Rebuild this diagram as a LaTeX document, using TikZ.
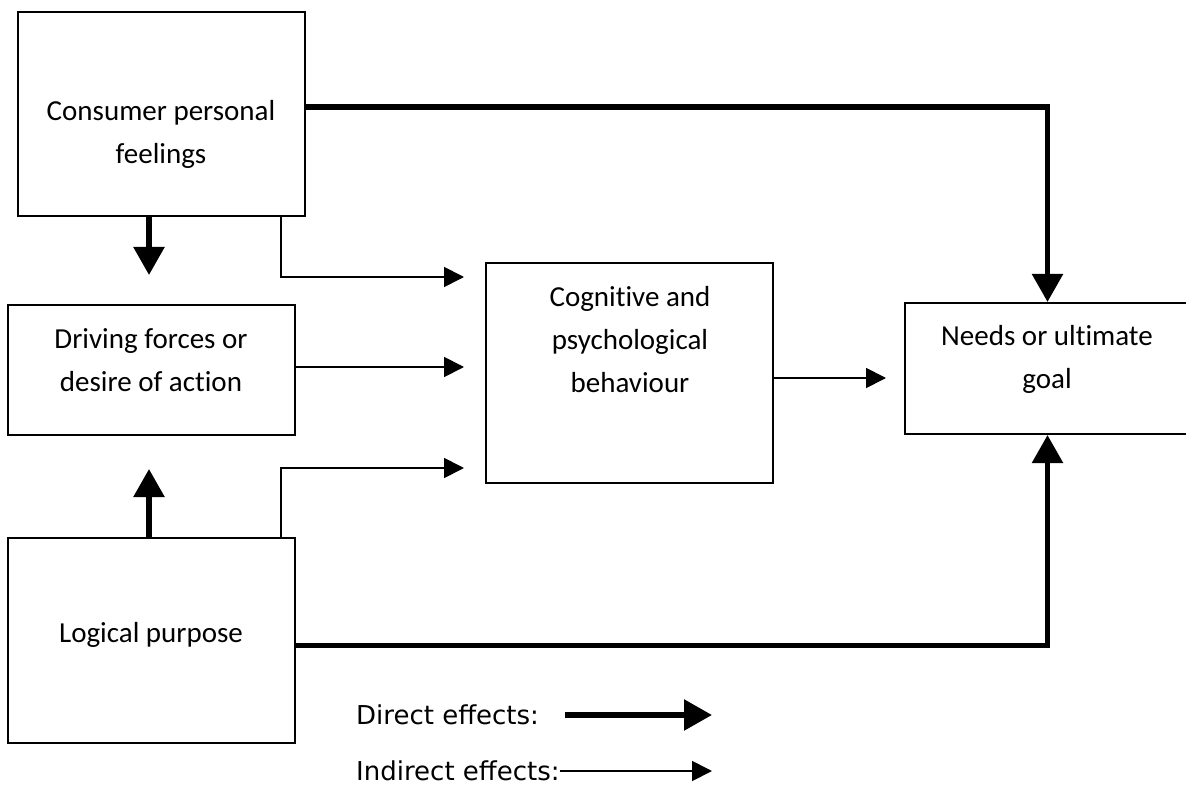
\documentclass[tikz,border=0pt]{standalone}
\usepackage{fontspec}
\setmainfont{Carlito}[Ligatures={NoCommon}]
\newfontfamily\legendfont{DejaVu Sans}
\usetikzlibrary{arrows.meta,calc}
\begin{document}
\begin{tikzpicture}[x=1pt,y=-1pt,
  box/.style={draw,line width=2pt,minimum width=#1,inner sep=0pt},
  txt/.style={align=center,font=\fontsize{29}{43}\selectfont,inner sep=0pt},
  lgd/.style={anchor=west,inner sep=0pt,font=\legendfont\fontsize{26}{30}\selectfont},
  direct/.style={line width=5.5pt,-{Triangle[length=28pt,width=30pt]}},
  indirect/.style={line width=1.8pt,-{Triangle[length=20pt,width=20pt]}},
]
\useasboundingbox (0,0) rectangle (1186,794);
\begin{scope}
\clip (0,0) rectangle (1186,794);
% boxes
\node[box=287pt,minimum height=204pt] (cpf) at (161.5,114) {};
\node[box=287pt,minimum height=130pt] (dfa) at (151.5,370) {};
\node[box=287pt,minimum height=205pt] (lp) at (151.5,640.5) {};
\node[box=287pt,minimum height=220pt] (cpb) at (629.5,373) {};
\node[box=285pt,minimum height=131pt] (nug) at (1047.5,368.5) {};
\end{scope}
% texts
\node[txt] (t1) at (161,134) {Consumer personal\\feelings};
\node[txt] (t2) at (151,360) {Driving forces or\\desire of action};
\node[txt] (t3) at (630,340) {Cognitive and\\psychological\\behaviour};
\node[txt] (t4) at (1047,359) {Needs or ultimate\\goal};
\node[txt] (t5) at (151,635) {Logical purpose};
% direct effects
\draw[direct] ($(cpf.north east)!0.466!(cpf.south east)$) -| (nug.north);
\draw[direct] ($(lp.north east)!0.524!(lp.south east)$) -| (nug.south);
\coordinate (d1) at (149,275);
\coordinate (d2) at (149,469);
\draw[direct] (cpf.south -| d1) -- (d1);
\draw[direct] (lp.north -| d2) -- (d2);
% indirect effects
\coordinate (i1) at (281,277);
\coordinate (i2) at (281,468);
\draw[indirect,shorten >=21pt] (cpf.south -| i1) |- (cpb.west |- i1);
\draw[indirect,shorten >=21pt] (dfa.east |- 0,367) -- (cpb.west |- 0,367);
\draw[indirect,shorten >=21pt] (lp.north -| i2) |- (cpb.west |- i2);
\draw[indirect,shorten >=18pt] (cpb.east |- 0,378) -- (nug.west |- 0,378);
% legend
\node[lgd] (l1) at (356,715) {Direct effects:};
\node[lgd] (l2) at (356,771) {Indirect effects:};
\coordinate (a1) at (565,715);
\coordinate (a2) at (712,715);
\coordinate (b2) at (712,771);
\draw[direct] (a1) -- (a2);
\draw[indirect] (l2.east) -- (b2);
\end{tikzpicture}
\end{document}
